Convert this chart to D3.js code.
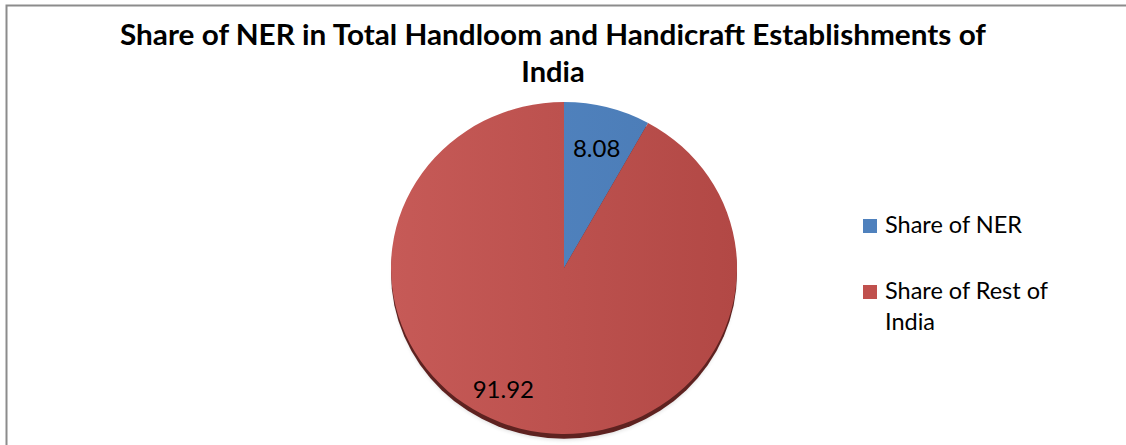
<!DOCTYPE html>
<html><head><meta charset="utf-8">
<script src="https://cdn.jsdelivr.net/npm/d3@7"></script>
<style>body{margin:0;background:#fff}svg{display:block}</style>
</head><body><svg id="c" width="1126" height="445"></svg>
<script>
const categories = ["Share of NER", "Share of Rest of India"];
const values = [8.08, 91.92];
const labels = ["8.08", "91.92"];
const titleLines = ["Share of NER in Total Handloom and Handicraft Establishments of", "India"];
const legendLines = [["Share of NER"], ["Share of Rest of", "India"]];
const colors = ["#4F81BD", "#C0504D"];

const svg = d3.select("#c");
const font = "Lato, 'Open Sans', sans-serif";

// border
svg.append("rect").attr("x", 6.5).attr("y", 5.5).attr("width", 1130).attr("height", 450)
  .attr("fill", "#fff").attr("stroke", "#8c8c8c").attr("stroke-width", 2);

// title
const tl = svg.append("g");
titleLines.forEach((t, i) => {
  const txt = tl.append("text").attr("x", 553).attr("y", 45 + i * 37)
    .attr("text-anchor", "middle").attr("font-family", font).attr("font-weight", "bold")
    .attr("font-size", 29).attr("fill", "#000").text(t);
  if (i === 0) txt.attr("textLength", 866).attr("lengthAdjust", "spacingAndGlyphs");
});

// pie
const cx = 564, cy = 268, rx = 173, ry = 166;
const defs = svg.append("defs");
const gradDefs = [["gRed", "#c65a57", "#b24845"], ["gBlue", "#5387c4", "#4a7ab4"]];
gradDefs.forEach(([id, a, b]) => {
  const g = defs.append("linearGradient").attr("id", id)
    .attr("gradientUnits", "userSpaceOnUse").attr("x1", -rx).attr("x2", rx).attr("y1", 0).attr("y2", 0);
  g.append("stop").attr("offset", 0).attr("stop-color", a);
  g.append("stop").attr("offset", 1).attr("stop-color", b);
});
const blur = defs.append("filter").attr("id", "sh").attr("x", "-20%").attr("y", "-20%").attr("width", "140%").attr("height", "140%");
blur.append("feGaussianBlur").attr("stdDeviation", 2);

const pie = d3.pie().sort(null).value(d => d);
const arcs = pie(values);
const arc = d3.arc().innerRadius(0).outerRadius(rx);
const labelArc = d3.arc().innerRadius(130).outerRadius(130);

const pg = svg.append("g").attr("transform", `translate(${cx},${cy}) scale(1,${ry / rx})`);
// soft shadow and dark rim
pg.append("ellipse").attr("cx", 0).attr("cy", 8).attr("rx", rx - 2).attr("ry", rx - 2)
  .attr("fill", "#000").attr("opacity", 0.15).attr("filter", "url(#sh)");
pg.append("circle").attr("cx", 0).attr("cy", 5).attr("r", rx).attr("fill", "#5e2220");
pg.selectAll("path.s").data(arcs).join("path").attr("class", "s")
  .attr("d", arc).attr("fill", (d, i) => i === 0 ? "url(#gBlue)" : "url(#gRed)");

// labels
const lg = svg.append("g").attr("transform", `translate(${cx},${cy})`);
arcs.forEach((d, i) => {
  let [x, y] = labelArc.centroid(d);
  y = y * ry / rx;
  if (i === 1) x -= 28;
  lg.append("text").attr("x", x).attr("y", y).attr("text-anchor", "middle")
    .attr("dominant-baseline", "central").attr("font-family", font).attr("font-size", 24)
    .attr("fill", "#000").text(labels[i]);
});

// legend
const leg = svg.append("g");
const legY = [233, 299];
categories.forEach((c, i) => {
  leg.append("rect").attr("x", 863).attr("y", legY[i] - 14).attr("width", 14).attr("height", 14)
    .attr("fill", colors[i]);
  legendLines[i].forEach((l, j) => {
    leg.append("text").attr("x", 885).attr("y", legY[i] + j * 31)
      .attr("font-family", font).attr("font-size", 23.5).attr("fill", "#000").text(l);
  });
});
</script></body></html>
